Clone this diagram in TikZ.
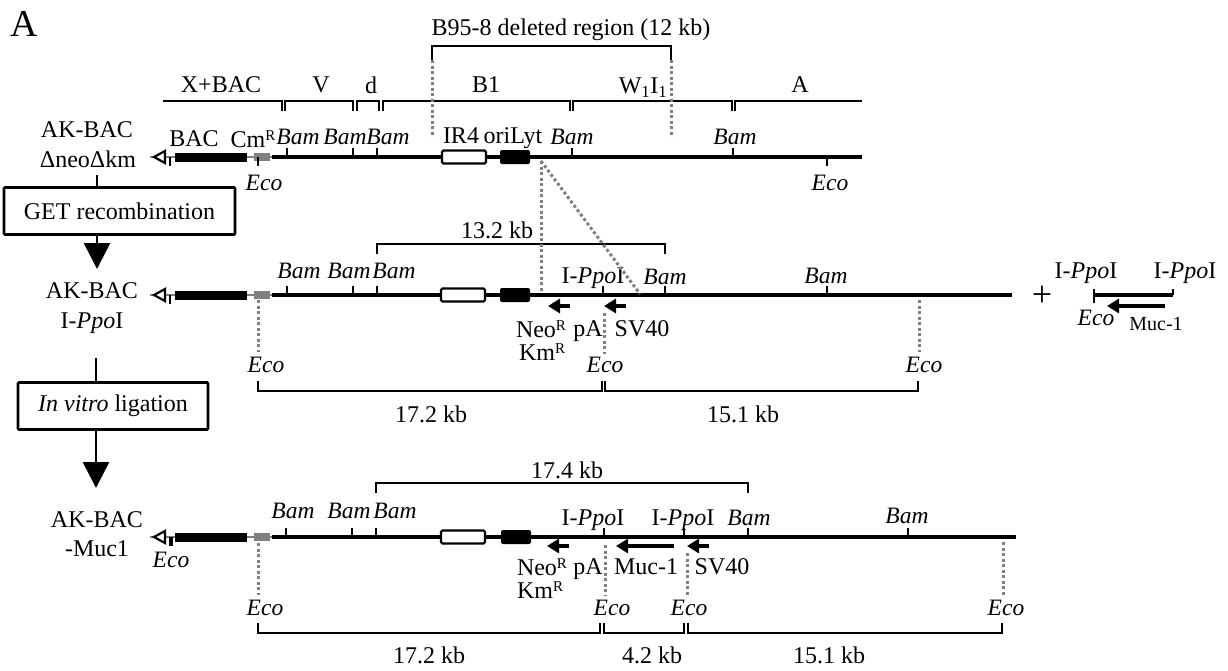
\documentclass[tikz,border=0pt]{standalone}
\usepackage{fontspec}
\setmainfont{Liberation Serif}
\usepackage{xcolor}
\usetikzlibrary{arrows.meta,positioning,calc}
\newcommand{\supR}{\raisebox{0.26em}{\fontsize{15}{15}\selectfont R}}

\begin{document}
\begin{tikzpicture}[x=1pt,y=-1pt,font=\fontsize{24}{26}\selectfont,
    lbl/.style={inner sep=0pt,text depth=0pt},
    site/.style={lbl,font=\fontsize{23.5}{26}\selectfont\itshape},
    guide/.style={gray,line width=3pt,dash pattern=on 3pt off 2.5pt},
    dna/.style={line width=3.8pt},
    tick/.style={line width=2.3pt},
    brk/.style={line width=2.6pt},
    stepbox/.style={draw,line width=2.6pt,rounded corners=1pt,inner sep=0pt,fill=white},
    flow/.style={line width=2.6pt,-{Triangle[width=26pt,length=26pt]}},
    orf/.style={line width=4.5pt,-{Triangle[width=14pt,length=12pt]}}]
  \useasboundingbox (0,0) rectangle (1228,670);
  % one backbone: name prefix, y, right end, white box x, black box x
  \def\backbone#1#2#3#4#5{
    \draw[gray,line width=2.8pt] (150,#2) -- (272,#2);
    \draw[fill=white,line width=2.2pt] (154,#2) -- (165,#2-6) -- (165,#2+6) -- cycle;
    \draw[tick] (170,#2) -- (170,#2+9);
    \fill (175,#2-4.5) rectangle (247,#2+4.5);
    \fill[gray] (254,#2-4) rectangle (270,#2+3.5);
    \draw[dna] (272,#2) coordinate (#1L) -- (#3,#2) coordinate (#1R);
    \draw[fill=white,line width=2.2pt,rounded corners=1.5pt] (#4,#2-6.5) rectangle (#4+44,#2+6.5);
    \fill[rounded corners=2pt] (#5,#2-7) rectangle (#5+30,#2+7);
  }
  % bracket opening down (#4 = 1) or up (#4 = -1)
  \def\bracket#1#2#3#4{
    \draw[brk] (#1,#3+10*#4) -- (#1,#3) -- (#2,#3) -- (#2,#3+10*#4);
  }
  \def\up#1#2{\draw[tick] (#1,#2) -- (#1,#2-9);}

  \node[lbl,font=\fontsize{38}{38}\selectfont] (panel) at (24,24) {A};

  % deleted region and EBV fragments
  \node[lbl] (delLabel) at (571,27) {B95-8 deleted region (12 kb)};
  \draw[brk] (432,60) coordinate (delL) -- (432,46) -- (671,46) -- (671,60) coordinate (delR);
  \node[lbl] (fX) at (221,85) {X+BAC};
  \node[lbl] (fV) at (321,85) {V};
  \node[lbl] (fd) at (371,85) {d};
  \node[lbl] (fB) at (486,85) {B1};
  \node[lbl] (fW) at (643,86) {W\textsubscript{1}I\textsubscript{1}};
  \node[lbl] (fA) at (800,85) {A};
  \draw[brk] (163,101) -- (282,101) -- (282,111);
  \bracket{285}{353}{101}{1}
  \bracket{357}{379}{101}{1}
  \bracket{383}{570}{101}{1}
  \bracket{573}{732}{101}{1}
  \draw[brk] (735,111) -- (735,101) -- (862,101);
  \draw[guide] (delL) -- (432,137);
  \draw[guide] (delR) -- (671,137);

  % AK-BAC delta neo delta km
  \backbone{a}{157}{862}{442}{500}
  \node[lbl] (akA) at (87,130) {AK-BAC};
  \node[lbl] (akB) at (88,159) {ΔneoΔkm};
  \node[lbl] (bac) at (194,139) {BAC};
  \node[lbl] (cm) at (253,139) {Cm\supR};
  \node[lbl] (ir) at (461,136) {IR4};
  \node[lbl] (ori) at (513,136) {oriLyt};
  \foreach \x/\t in {287/298,353/345,377/388,572/572,733/735} {
    \up{\x}{157}
    \node[site] at (\t,137) {Bam};
  }
  \draw[tick] (258,157) -- (258,166);
  \draw[tick] (827,157) -- (827,166);
  \node[site] (eA) at (264,183) {Eco};
  \node[site] (eB) at (830,183) {Eco};

  % GET recombination step
  \node[stepbox,minimum width=231pt,minimum height=47pt] (get) at (119.5,211) {GET recombination};
  \coordinate (neoEnd) at (97,175);
  \coordinate (tipA) at (97,269);
  \draw[line width=2.6pt] (neoEnd) -- (get.north -| neoEnd);
  \draw[flow] (get.south -| tipA) -- (tipA);

  % AK-BAC I-PpoI
  \backbone{b}{295}{1012}{441}{500}
  \node[lbl] (bakA) at (92,291) {AK-BAC};
  \node[lbl] (bakB) at (92,321) {I-\textit{Ppo}I};
  \bracket{377}{665}{244}{1}
  \node[lbl] (kbA) at (497,230) {13.2 kb};
  \foreach \x/\t/\yy in {287/299/271,353/349/271,377/394/271,665/665/277,827/826/276} {
    \up{\x}{295}
    \node[site] at (\t,\yy) {Bam};
  }
  \up{603}{295}
  \node[lbl] (pA) at (593,276) {I-\textit{Ppo}I};
  \coordinate (oriEnd) at (541,161);
  \draw[guide] (oriEnd) -- (541,292);
  \draw[guide] (oriEnd) -- (640,294);
  \draw[orf] (570,306) -- (548,306);
  \draw[orf] (626,306) -- (604,306);
  \node[lbl] (neoA) at (541,329) {Neo\supR};
  \node[lbl] (kmA) at (542,352) {Km\supR};
  \node[lbl] (paA) at (588,329) {pA};
  \node[lbl] (svA) at (642,329) {SV40};
  \node[site] (ebA) at (266,365) {Eco};
  \node[site] (ebB) at (605,365) {Eco};
  \node[site] (ebC) at (924,365) {Eco};
  \draw[guide] (258,300) -- (258,352);
  \draw[guide] (604,313) -- (604,354);
  \draw[guide] (919,300) -- (919,352);
  \bracket{258}{602}{391}{-1}
  \bracket{605}{918}{391}{-1}
  \node[lbl] (kbB) at (431,414) {17.2 kb};
  \node[lbl] (kbC) at (743,414) {15.1 kb};

  % Muc-1 fragment
  \node[lbl,font=\fontsize{36}{36}\selectfont] (plus) at (1042,296) {+};
  \node[lbl] (pB) at (1086,271) {I-\textit{Ppo}I};
  \node[lbl] (pC) at (1185,271) {I-\textit{Ppo}I};
  \draw[dna] (1093,295) -- (1173,295);
  \draw[tick] (1094,289) -- (1094,303);
  \draw[tick] (1173,289) -- (1173,295);
  \draw[orf] (1165,306) -- (1107,306);
  \node[site] (eC) at (1096,318) {Eco};
  \node[lbl,font=\fontsize{20}{22}\selectfont] (mucA) at (1156,324) {Muc-1};

  % in vitro ligation step
  \node[stepbox,minimum width=190pt,minimum height=47pt] (lig) at (113,406) {\textit{In vitro} ligation};
  \coordinate (ligEnd) at (96,358);
  \coordinate (tipB) at (96,488);
  \draw[line width=2.6pt] (ligEnd) -- (lig.north -| ligEnd);
  \draw[flow] (lig.south -| tipB) -- (tipB);

  % AK-BAC-Muc1
  \backbone{c}{537}{1016}{441}{501}
  \node[lbl] (cakA) at (97,520) {AK-BAC};
  \node[lbl] (cakB) at (97,549) {-Muc1};
  \bracket{376}{748}{483}{1}
  \node[lbl] (kbD) at (567,470) {17.4 kb};
  \foreach \x/\t/\yy in {286/293/511,352/349/511,376/395/511,748/749/518,908/907/516} {
    \up{\x}{537}
    \node[site] at (\t,\yy) {Bam};
  }
  \up{604}{537}
  \up{684}{537}
  \node[lbl] (pD) at (593,518) {I-\textit{Ppo}I};
  \node[lbl] (pE) at (683,518) {I-\textit{Ppo}I};
  \draw[orf] (569,546) -- (547,546);
  \draw[orf] (674,546) -- (616,546);
  \draw[orf] (709,546) -- (687,546);
  \node[lbl] (neoB) at (542,567) {Neo\supR};
  \node[lbl] (kmB) at (540,590) {Km\supR};
  \node[lbl] (paB) at (588,567) {pA};
  \node[lbl] (mucB) at (646,567) {Muc-1};
  \node[lbl] (svB) at (722,567) {SV40};
  \draw[tick] (172,537) -- (172,546);
  \node[site] (edA) at (171,560) {Eco};
  \node[site] (edB) at (265,608) {Eco};
  \node[site] (edC) at (612,608) {Eco};
  \node[site] (edD) at (689,608) {Eco};
  \node[site] (edE) at (1006,608) {Eco};
  \draw[guide] (258,543) -- (258,595);
  \draw[guide] (605,545) -- (605,595);
  \draw[guide] (687,553) -- (687,595);
  \draw[guide] (1003,542) -- (1003,595);
  \bracket{258}{600}{633}{-1}
  \bracket{604}{684}{633}{-1}
  \bracket{688}{1002}{633}{-1}
  \node[lbl] (kbE) at (429,655) {17.2 kb};
  \node[lbl] (kbF) at (652,655) {4.2 kb};
  \node[lbl] (kbG) at (829,655) {15.1 kb};
\end{tikzpicture}
\end{document}
